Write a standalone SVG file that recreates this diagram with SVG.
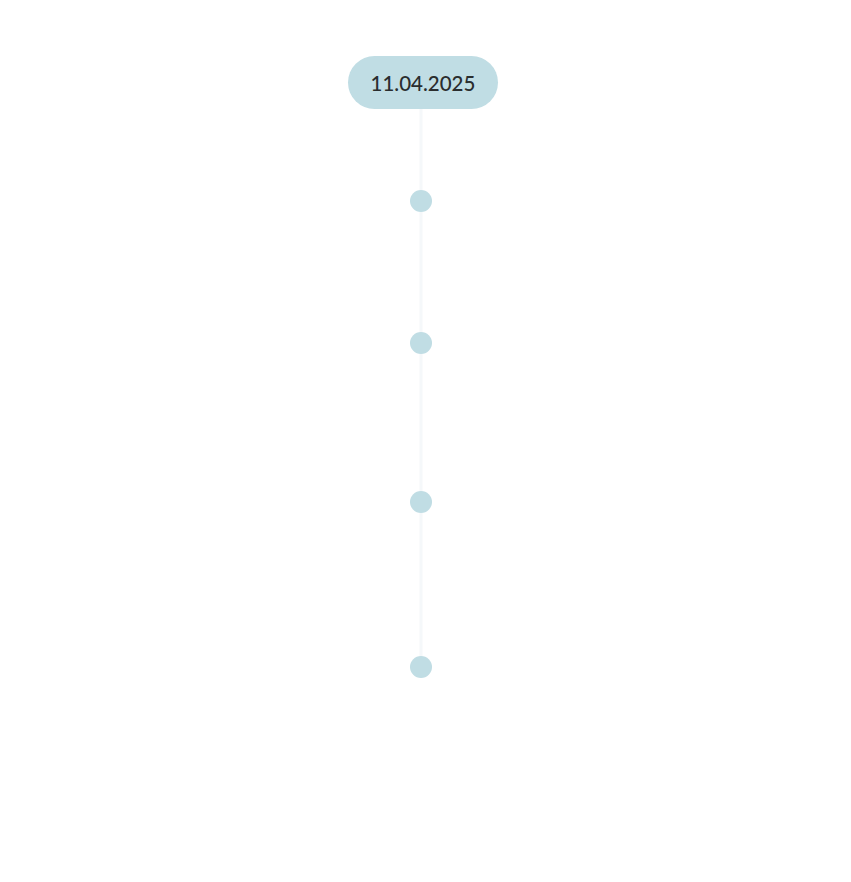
<svg xmlns="http://www.w3.org/2000/svg" width="851" height="882" viewBox="0 0 851 882">
<style>
.dot{fill:#c0dde4}
.line{stroke:#f5f8fa;stroke-width:3;fill:none}
.lbl{font-family:"Lato","Open Sans",sans-serif;font-size:20.5px;font-weight:500;fill:#2a2d2e;text-anchor:middle}
</style>
<rect width="851" height="882" fill="#ffffff"/>
<g id="connectors">
<line class="line" x1="421" y1="109" x2="421" y2="667"/>
</g>
<g id="date">
<rect x="348" y="56" width="150" height="53" rx="26.5" fill="#c0dde4"/>
<text class="lbl" x="423" y="91">11.04.2025</text>
</g>
<g id="dot1"><circle class="dot" cx="421" cy="201" r="11"/></g>
<g id="dot2"><circle class="dot" cx="421" cy="343" r="11"/></g>
<g id="dot3"><circle class="dot" cx="421" cy="502" r="11"/></g>
<g id="dot4"><circle class="dot" cx="421" cy="667" r="11"/></g>
</svg>
